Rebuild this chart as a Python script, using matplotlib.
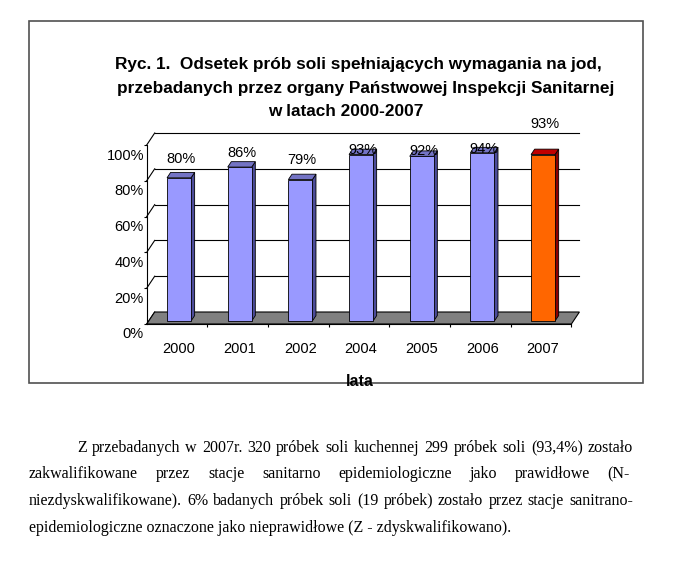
import numpy as np
import matplotlib
matplotlib.use('Agg')
import matplotlib.pyplot as plt
from matplotlib.patches import Polygon, Rectangle
from matplotlib.transforms import ScaledTranslation

# data
years = ['2000', '2001', '2002', '2004', '2005', '2006', '2007']
values = [80, 86, 79, 93, 92, 94, 93]
labels = ['80%', '86%', '79%', '93%', '92%', '94%', '93%']
yticks = [0, 20, 40, 60, 80, 100]
ytick_labels = ['0%', '20%', '40%', '60%', '80%', '100%']

title_lines = ['Ryc. 1.  Odsetek prób soli spełniających wymagania na jod,',
               'przebadanych przez organy Państwowej Inspekcji Sanitarnej',
               'w latach 2000-2007']
xlabel = 'lata'
paragraph = [
    'Z przebadanych w 2007r. 320 próbek soli kuchennej 299 próbek soli (93,4%) zostało',
    'zakwalifikowane przez stacje sanitarno epidemiologiczne jako prawidłowe (N-',
    'niezdyskwalifikowane). 6% badanych próbek soli (19 próbek) zostało przez stacje sanitrano-',
    'epidemiologiczne oznaczone jako nieprawidłowe (Z - zdyskwalifikowano).',
]

# label offsets above bar tops (px), as in the original
label_dy = [19, 14, 20, 5, 5, 4, 31]

W, H = 682, 571
fig = plt.figure(figsize=(W / 100, H / 100), dpi=100)
fig.patch.set_facecolor('white')

def fx(px):
    return px / W

def fy(py):
    return 1 - py / H

# axes = front plane of the 3d box
x_left, x_right = 146.7, 571.4
y_bot, y_top = 324, 145
ax = fig.add_axes([fx(x_left), fy(y_bot), fx(x_right) - fx(x_left), (y_bot - y_top) / H])
ax.set_xlim(-0.5, 6.5)
ax.set_ylim(0, 100)
ax.patch.set_alpha(0)
for s in ['top', 'right']:
    ax.spines[s].set_visible(False)
for s in ['left', 'bottom']:
    ax.spines[s].set_linewidth(0.8)

px_per_x = (x_right - x_left) / 7
px_per_v = (y_bot - y_top) / 100
DX = 8 / px_per_x    # depth offset in data units
DV = 12 / px_per_v
d0, bd = 0.25, 0.45   # bar front depth, bar depth
w = 24 / px_per_x

# back wall gridlines and left wall diagonals
for v in yticks:
    if v > 0:
        ax.plot([-0.5 + DX, 6.5 + DX], [v + DV, v + DV], color='black', lw=0.8,
                clip_on=False, zorder=1)
    ax.plot([-0.5, -0.5 + DX], [v, v + DV], color='black', lw=0.8, clip_on=False, zorder=1)

# floor
floor = Polygon([(-0.5, 0), (6.5, 0), (6.5 + DX, DV), (-0.5 + DX, DV)], closed=True,
                facecolor='#808080', edgecolor='black', lw=0.8, clip_on=False, zorder=2)
ax.add_patch(floor)

# bars
for i, v in enumerate(values):
    if years[i] == '2007':
        cf, ct, cs = '#FF6600', '#C00000', '#8B0000'
    else:
        cf, ct, cs = '#9999FF', '#7373C4', '#4C4C9A'
    x0 = i - w / 2 + DX * d0
    x1 = i + w / 2 + DX * d0
    b = DV * d0
    t = v + DV * d0
    ex, ev = DX * bd, DV * bd
    side = Polygon([(x1, b), (x1 + ex, b + ev), (x1 + ex, t + ev), (x1, t)], closed=True,
                   facecolor=cs, edgecolor='black', lw=0.6, clip_on=False, zorder=3)
    top = Polygon([(x0, t), (x1, t), (x1 + ex, t + ev), (x0 + ex, t + ev)], closed=True,
                  facecolor=ct, edgecolor='black', lw=0.6, clip_on=False, zorder=3)
    front = Rectangle((x0, b), x1 - x0, t - b, facecolor=cf, edgecolor='black', lw=0.6,
                      clip_on=False, zorder=4)
    ax.add_patch(side)
    ax.add_patch(top)
    ax.add_patch(front)
    ax.annotate(labels[i], (i + DX * (d0 + bd / 2), t), xytext=(0, label_dy[i] * 0.72),
                textcoords='offset points', ha='center', va='center', fontsize=10.5,
                family='Liberation Sans', zorder=6, annotation_clip=False)

# ticks
ax.set_yticks(yticks)
ax.set_yticklabels(ytick_labels, family='Liberation Sans', fontsize=10.5)
ax.tick_params(axis='y', length=2, width=0.8, pad=0)
off = ScaledTranslation(0, -0.09, fig.dpi_scale_trans)
for lab in ax.get_yticklabels():
    lab.set_transform(lab.get_transform() + off)

ax.set_xticks(np.arange(7) + 0.5)
ax.set_xticklabels([])
ax.set_xticks(np.arange(7) + DX * d0, minor=True)
ax.set_xticklabels(years, minor=True, family='Liberation Sans', fontsize=10.5)
ax.tick_params(axis='x', which='major', length=2.5, width=0.8)
ax.tick_params(axis='x', which='minor', length=0, pad=13)

# titles
title_x = [358, 366, 346]
title_base = [69, 93, 116]
for s, x, y in zip(title_lines, title_x, title_base):
    fig.text(fx(x), fy(y), s, ha='center', va='baseline', fontsize=12.4,
             fontweight='bold', family='Liberation Sans')
fig.text(fx(360), fy(386), xlabel, ha='center', va='baseline', fontsize=11.5,
         fontweight='bold', family='Liberation Sans', zorder=10)

# chart frame
fig.patches.append(Rectangle((fx(29), fy(383)), fx(643) - fx(29), (383 - 21) / H,
                             transform=fig.transFigure, fill=False, edgecolor='#505050',
                             lw=1.2))

# paragraph below, justified
r = fig.canvas.get_renderer()
line_x0 = [77, 29, 29, 29]
line_x1 = [633, 630, 633, None]
line_base = [452, 478, 505, 532]
for s, a, b_, y in zip(paragraph, line_x0, line_x1, line_base):
    if b_ is None:
        fig.text(fx(a), fy(y), s, ha='left', va='baseline', fontsize=11.5,
                 family='Liberation Serif')
        continue
    words = s.split(' ')
    texts = [fig.text(0, fy(y), wd, ha='left', va='baseline', fontsize=11.5,
                      family='Liberation Serif') for wd in words]
    widths = [t_.get_window_extent(r).width for t_ in texts]
    gap = (b_ - a - sum(widths)) / (len(words) - 1)
    xx = a
    for t_, wd in zip(texts, widths):
        t_.set_x(fx(xx))
        xx += wd + gap

fig.savefig('out.png', dpi=100)
